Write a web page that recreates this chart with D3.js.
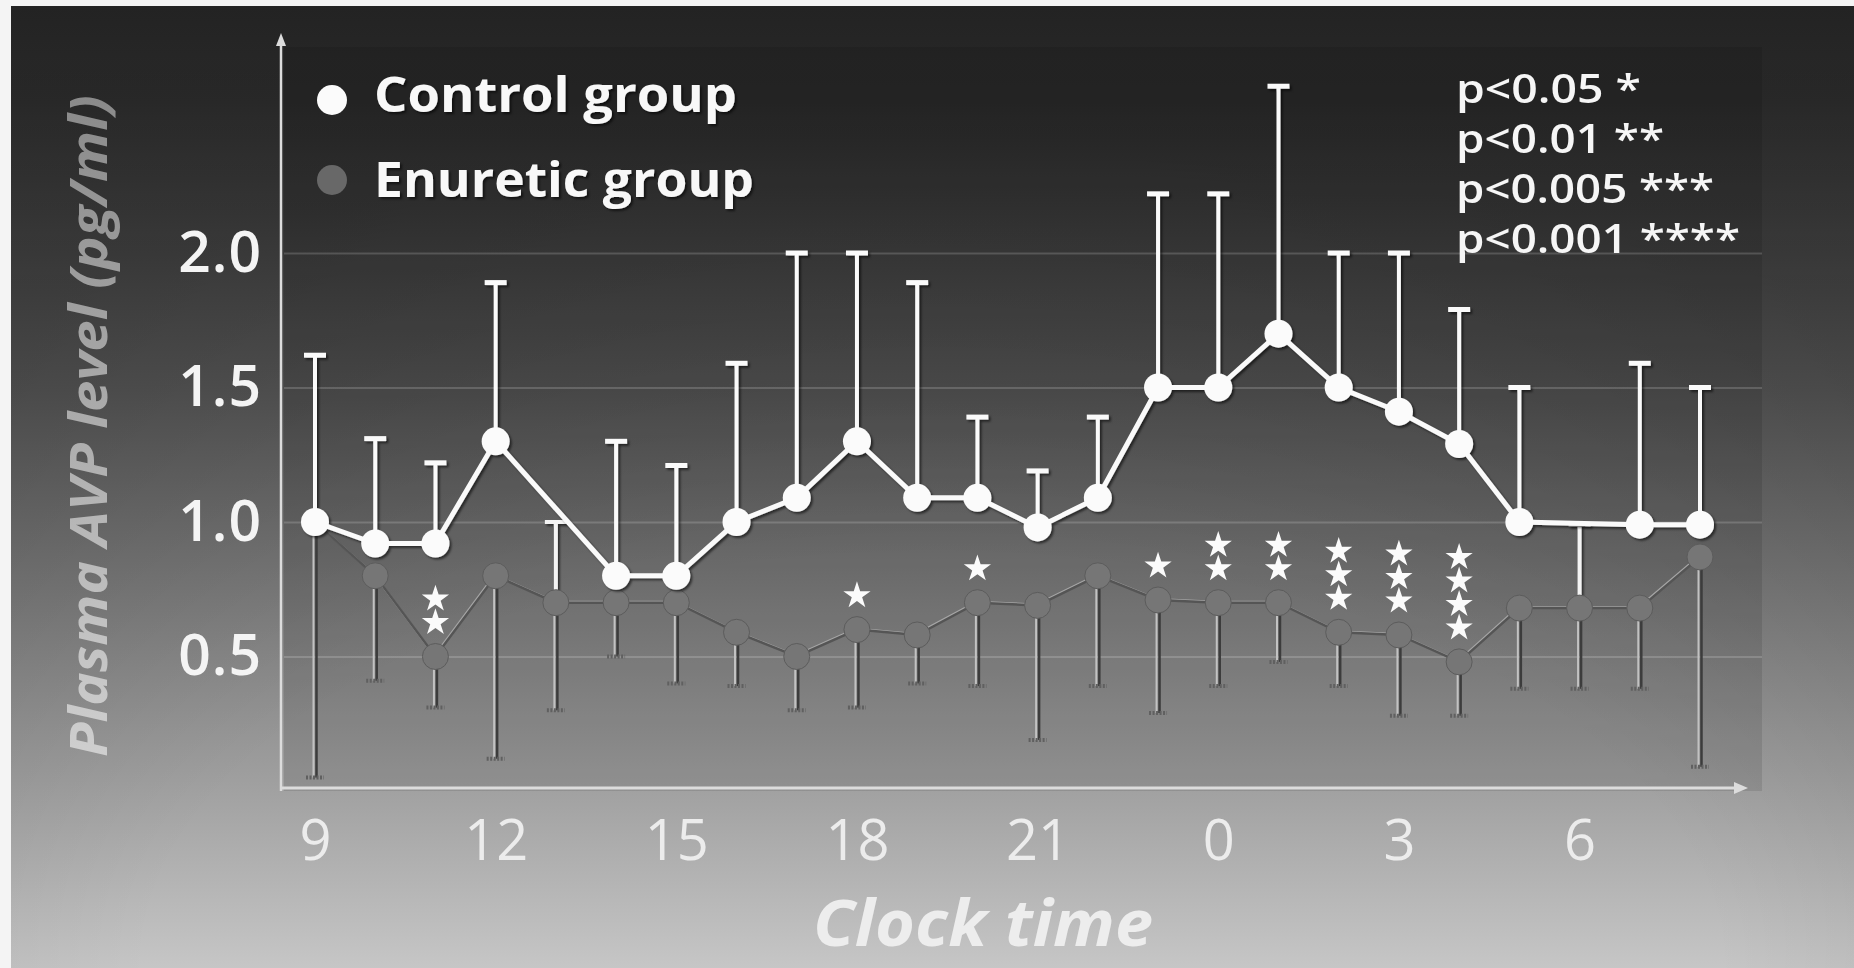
<!DOCTYPE html>
<html>
<head>
<meta charset="utf-8">
<script src="https://cdn.jsdelivr.net/npm/d3@7"></script>
<style>
  html, body { margin: 0; padding: 0; background: #f4f4f4; }
  svg { display: block; font-family: "Open Sans", "DejaVu Sans", sans-serif; }
</style>
</head>
<body>
<div id="chart"></div>
<script>
// Plasma AVP over 24 h, control vs enuretic children

// Clock hours, one sample per hour from 9 h to 8 h next morning
const hours = ["9", "10", "11", "12", "13", "14", "15", "16", "17", "18", "19", "20",
               "21", "22", "23", "0", "1", "2", "3", "4", "5", "6", "7", "8"];

// Control group: mean and top of error bar (null = no value)
const controlMean  = [1.00, 0.92, 0.92, 1.30, null, 0.80, 0.80, 1.00, 1.09, 1.30, 1.09, 1.09,
                      0.98, 1.09, 1.50, 1.50, 1.70, 1.50, 1.41, 1.29, 1.00, null, 0.99, 0.99];
const controlUpper = [1.62, 1.31, 1.22, 1.89, null, 1.30, 1.21, 1.59, 2.00, 2.00, 1.89, 1.39,
                      1.19, 1.39, 2.22, 2.22, 2.62, 2.00, 2.00, 1.79, 1.50, null, 1.59, 1.50];

// Enuretic group: mean, bottom of error bar, top of error bar where shown
const enureticMean  = [1.00, 0.80, 0.50, 0.80, 0.70, 0.70, 0.70, 0.59, 0.50, 0.60, 0.58, 0.70,
                       0.69, 0.80, 0.71, 0.70, 0.70, 0.59, 0.58, 0.48, 0.68, 0.68, 0.68, 0.87];
const enureticLower = [0.05, 0.41, 0.31, 0.12, 0.30, 0.50, 0.40, 0.39, 0.30, 0.31, 0.40, 0.39,
                       0.19, 0.39, 0.29, 0.39, 0.48, 0.39, 0.28, 0.28, 0.38, 0.38, 0.38, 0.09];
const enureticUpper = [null, null, null, null, 1.00, null, null, null, null, null, null, null,
                       null, null, null, null, null, null, null, null, null, 0.99, null, null];

// Number of significance stars above each enuretic point
const starCounts = [0, 0, 2, 0, 0, 0, 0, 0, 0, 1, 0, 1, 0, 0, 1, 2, 2, 3, 3, 4, 0, 0, 0, 0];

const yTicks = [0.5, 1.0, 1.5, 2.0];
const xTickLabels = ["9", "12", "15", "18", "21", "0", "3", "6"];
const legendGroups = ["Control group", "Enuretic group"];
const pLegend = ["p<0.05 *", "p<0.01 **", "p<0.005 ***", "p<0.001 ****"];

const width = 1854, height = 968;

const svg = d3.select("#chart").append("svg")
  .attr("width", width)
  .attr("height", height);

const defs = svg.append("defs");

// Background: dark top fading to light grey at the bottom (projected slide)
const bgGrad = defs.append("linearGradient")
  .attr("id", "bg").attr("x1", 0).attr("y1", 0).attr("x2", 0).attr("y2", 1);
[[0, "#2c2c2c"], [0.1, "#323232"], [0.4, "#585858"], [0.6, "#7a7a7a"],
 [0.8, "#9e9e9e"], [0.9, "#b2b2b2"], [1, "#c6c6c6"]]
  .forEach(([o, c]) => bgGrad.append("stop").attr("offset", o).attr("stop-color", c));

const vign = defs.append("radialGradient")
  .attr("id", "vign").attr("cx", 0.5).attr("cy", 1).attr("r", 0.85);
vign.append("stop").attr("offset", 0.5).attr("stop-color", "#000").attr("stop-opacity", 0);
vign.append("stop").attr("offset", 1).attr("stop-color", "#000").attr("stop-opacity", 0.2);

const titleGrad = defs.append("linearGradient")
  .attr("id", "ytitle").attr("gradientUnits", "userSpaceOnUse")
  .attr("x1", -331).attr("y1", 0).attr("x2", 331).attr("y2", 0);
titleGrad.append("stop").attr("offset", 0).attr("stop-color", "#cfcfcf");
titleGrad.append("stop").attr("offset", 1).attr("stop-color", "#8a8a8a");

const shadow = defs.append("filter").attr("id", "shadow")
  .attr("x", "-20%").attr("y", "-20%").attr("width", "140%").attr("height", "140%");
shadow.append("feDropShadow")
  .attr("dx", 2).attr("dy", 2).attr("stdDeviation", 1.2)
  .attr("flood-color", "#000").attr("flood-opacity", 0.55);

const glow = defs.append("filter").attr("id", "soft");
glow.append("feGaussianBlur").attr("stdDeviation", 0.6);

svg.append("rect")
  .attr("x", 11).attr("y", 6)
  .attr("width", width - 11).attr("height", height - 6)
  .attr("fill", "url(#bg)");
svg.append("rect")
  .attr("x", 11).attr("y", 6)
  .attr("width", width - 11).attr("height", height - 6)
  .attr("fill", "url(#vign)");

// Layout
const plot = { left: 284, right: 1762, top: 47 };

const x = d3.scalePoint()
  .domain(hours)
  .range([315, 1700]);

const y = d3.scaleLinear()
  .domain([0, 2])
  .range([791, 253]);

// Darker plot panel
svg.append("rect")
  .attr("x", plot.left)
  .attr("y", plot.top)
  .attr("width", plot.right - plot.left)
  .attr("height", y(0) - plot.top)
  .attr("fill", "#000")
  .attr("fill-opacity", 0.1);

// Gridlines
svg.append("g")
  .attr("class", "grid")
  .attr("transform", `translate(${plot.left},0)`)
  .call(d3.axisLeft(y).tickValues(yTicks).tickSize(-(plot.right - plot.left)).tickFormat(""))
  .call(g => g.select(".domain").remove())
  .call(g => g.selectAll("line")
    .attr("stroke", "#fff")
    .attr("stroke-opacity", 0.17)
    .attr("stroke-width", 2));

// Axes lines with arrow heads
const axisColor = "#dcdcdc";
svg.append("line")
  .attr("x1", 281).attr("y1", y(0))
  .attr("x2", 281).attr("y2", 40)
  .attr("stroke", axisColor).attr("stroke-width", 2.5);
svg.append("path")
  .attr("d", "M281,33 L276,46 L286,46 Z")
  .attr("fill", axisColor);

svg.append("line")
  .attr("x1", 281).attr("y1", y(0) - 3)
  .attr("x2", 1738).attr("y2", y(0) - 3)
  .attr("stroke", axisColor).attr("stroke-width", 3);
svg.append("path")
  .attr("d", `M1748,${y(0) - 3} L1734,${y(0) - 9} L1734,${y(0) + 3} Z`)
  .attr("fill", axisColor);

// Y tick labels
svg.append("g")
  .attr("transform", "translate(262,0)")
  .call(d3.axisLeft(y).tickValues(yTicks).tickFormat(d3.format(".1f")).tickSize(0).tickPadding(0))
  .call(g => g.select(".domain").remove())
  .call(g => g.selectAll("text")
    .attr("fill", "#f4f4f4")
    .attr("font-size", 57)
    .attr("font-weight", 600)
    .attr("letter-spacing", 1)
    .attr("font-family", "'Open Sans', sans-serif"));

// X tick labels
svg.append("g")
  .attr("transform", `translate(0,${y(0) - 3})`)
  .call(d3.axisBottom(x).tickValues(xTickLabels).tickSize(0))
  .call(g => g.select(".domain").remove())
  .call(g => g.selectAll("text")
    .attr("y", 72)
    .attr("dy", 0)
    .attr("fill", "#ececec")
    .attr("font-size", 56)
    .attr("font-weight", 500)
    .attr("font-family", "'Open Sans', sans-serif"));

// Axis titles
svg.append("text")
  .attr("x", 983)
  .attr("y", 946)
  .attr("text-anchor", "middle")
  .attr("fill", "#ededed")
  .attr("font-size", 64)
  .attr("font-weight", 700)
  .attr("font-style", "italic")
  .attr("textLength", 340)
  .attr("lengthAdjust", "spacingAndGlyphs")
  .text("Clock time");

svg.append("text")
  .attr("transform", "translate(107,426) rotate(-90)")
  .attr("text-anchor", "middle")
  .attr("fill", "url(#ytitle)")
  .attr("font-size", 52)
  .attr("font-weight", 700)
  .attr("font-style", "italic")
  .attr("textLength", 662)
  .attr("lengthAdjust", "spacingAndGlyphs")
  .text("Plasma AVP level (pg/ml)");

// Enuretic group
const idx = d3.range(hours.length);
const enuGrey = "#767676";

const enuBars = svg.append("g").attr("class", "enuretic-bars");
// embossed look: light edge on the left, dark shade on the right
enuBars.selectAll("line.light")
  .data(idx)
  .join("line")
    .attr("class", "light")
    .attr("x1", i => x(hours[i]) - 1.5)
    .attr("x2", i => x(hours[i]) - 1.5)
    .attr("y1", i => y(enureticMean[i]))
    .attr("y2", i => y(enureticLower[i]))
    .attr("stroke", "#c2c2c2")
    .attr("stroke-width", 2);
enuBars.selectAll("line.dark")
  .data(idx)
  .join("line")
    .attr("class", "dark")
    .attr("x1", i => x(hours[i]) + 1.5)
    .attr("x2", i => x(hours[i]) + 1.5)
    .attr("y1", i => y(enureticMean[i]))
    .attr("y2", i => y(enureticLower[i]))
    .attr("stroke", "#3c3c3c")
    .attr("stroke-width", 2.5);
enuBars.selectAll("line.cap")
  .data(idx)
  .join("line")
    .attr("class", "cap")
    .attr("x1", i => x(hours[i]) - 9)
    .attr("x2", i => x(hours[i]) + 9)
    .attr("y1", i => y(enureticLower[i]))
    .attr("y2", i => y(enureticLower[i]))
    .attr("stroke", "#606060")
    .attr("stroke-width", 4)
    .attr("stroke-dasharray", "2,1.5");

// Upper bars (only at hours without a control value)
const upIdx = idx.filter(i => enureticUpper[i] != null);
const upBars = svg.append("g").attr("filter", "url(#shadow)");
upBars.selectAll("line.up")
  .data(upIdx)
  .join("line")
    .attr("x1", i => x(hours[i]))
    .attr("x2", i => x(hours[i]))
    .attr("y1", i => y(enureticMean[i]))
    .attr("y2", i => y(enureticUpper[i]))
    .attr("stroke", "#f4f4f4")
    .attr("stroke-width", 4);
upBars.selectAll("line.upcap")
  .data(upIdx)
  .join("line")
    .attr("x1", i => x(hours[i]) - 11)
    .attr("x2", i => x(hours[i]) + 11)
    .attr("y1", i => y(enureticUpper[i]))
    .attr("y2", i => y(enureticUpper[i]))
    .attr("stroke", "#f4f4f4")
    .attr("stroke-width", 4);

const enuLine = d3.line()
  .x(i => x(hours[i]))
  .y(i => y(enureticMean[i]));

svg.append("path")
  .datum(idx)
  .attr("d", enuLine)
  .attr("fill", "none")
  .attr("stroke", "#a6a6a6")
  .attr("stroke-width", 2)
  .attr("transform", "translate(-1,-1)");
svg.append("path")
  .datum(idx)
  .attr("d", enuLine)
  .attr("fill", "none")
  .attr("stroke", "#555")
  .attr("stroke-width", 2.5);

svg.append("g")
  .selectAll("circle")
  .data(idx)
  .join("circle")
    .attr("cx", i => x(hours[i]))
    .attr("cy", i => y(enureticMean[i]))
    .attr("r", 13)
    .attr("fill", enuGrey)
    .attr("stroke", "#5c5c5c")
    .attr("stroke-width", 1);

// Significance stars
const starData = idx.flatMap(i => d3.range(starCounts[i]).map(k => ({ i, k })));
svg.append("g")
  .attr("filter", "url(#soft)")
  .selectAll("path")
  .data(starData)
  .join("path")
    .attr("d", d3.symbol().type(d3.symbolStar).size(230))
    .attr("transform", d => `translate(${x(hours[d.i])},${y(enureticMean[d.i]) - 34 - d.k * 23.5})`)
    .attr("fill", "#fbfbfb");

// Control group
const ctlIdx = idx.filter(i => controlMean[i] != null);
const ctl = svg.append("g").attr("filter", "url(#shadow)");

ctl.selectAll("line.bar")
  .data(ctlIdx)
  .join("line")
    .attr("class", "bar")
    .attr("x1", i => x(hours[i]))
    .attr("x2", i => x(hours[i]))
    .attr("y1", i => y(controlMean[i]))
    .attr("y2", i => y(controlUpper[i]))
    .attr("stroke", "#fafafa")
    .attr("stroke-width", 4);
ctl.selectAll("line.cap")
  .data(ctlIdx)
  .join("line")
    .attr("class", "cap")
    .attr("x1", i => x(hours[i]) - 11)
    .attr("x2", i => x(hours[i]) + 11)
    .attr("y1", i => y(controlUpper[i]))
    .attr("y2", i => y(controlUpper[i]))
    .attr("stroke", "#fafafa")
    .attr("stroke-width", 5);

ctl.append("path")
  .datum(ctlIdx)
  .attr("d", d3.line().x(i => x(hours[i])).y(i => y(controlMean[i])))
  .attr("fill", "none")
  .attr("stroke", "#fafafa")
  .attr("stroke-width", 5);

ctl.selectAll("circle")
  .data(ctlIdx)
  .join("circle")
    .attr("cx", i => x(hours[i]))
    .attr("cy", i => y(controlMean[i]))
    .attr("r", 14)
    .attr("fill", "#fbfbfb");

// Legend
const legend = svg.append("g").attr("class", "legend");
const legendRows = [
  { label: legendGroups[0], fill: "#fbfbfb", cy: 100, base: 112, len: 363 },
  { label: legendGroups[1], fill: "#686868", cy: 180, base: 197, len: 380 }
];
legend.selectAll("circle")
  .data(legendRows)
  .join("circle")
    .attr("cx", 332)
    .attr("cy", d => d.cy)
    .attr("r", 15)
    .attr("fill", d => d.fill);
legend.selectAll("text")
  .data(legendRows)
  .join("text")
    .attr("x", 374)
    .attr("y", d => d.base)
    .attr("fill", "#f8f8f8")
    .attr("font-size", 48)
    .attr("font-weight", 700)
    .attr("textLength", d => d.len)
    .attr("lengthAdjust", "spacingAndGlyphs")
    .attr("filter", "url(#shadow)")
    .text(d => d.label);

// p-value key
const pLens = [185, 208, 258, 284];
svg.append("g")
  .selectAll("text")
  .data(pLegend)
  .join("text")
    .attr("x", 1456)
    .attr("y", (d, i) => 103 + i * 50)
    .attr("fill", "#f6f6f6")
    .attr("font-size", 40)
    .attr("font-weight", 600)
    .attr("textLength", (d, i) => pLens[i])
    .attr("lengthAdjust", "spacingAndGlyphs")
    .text(d => d);
</script>
</body>
</html>
